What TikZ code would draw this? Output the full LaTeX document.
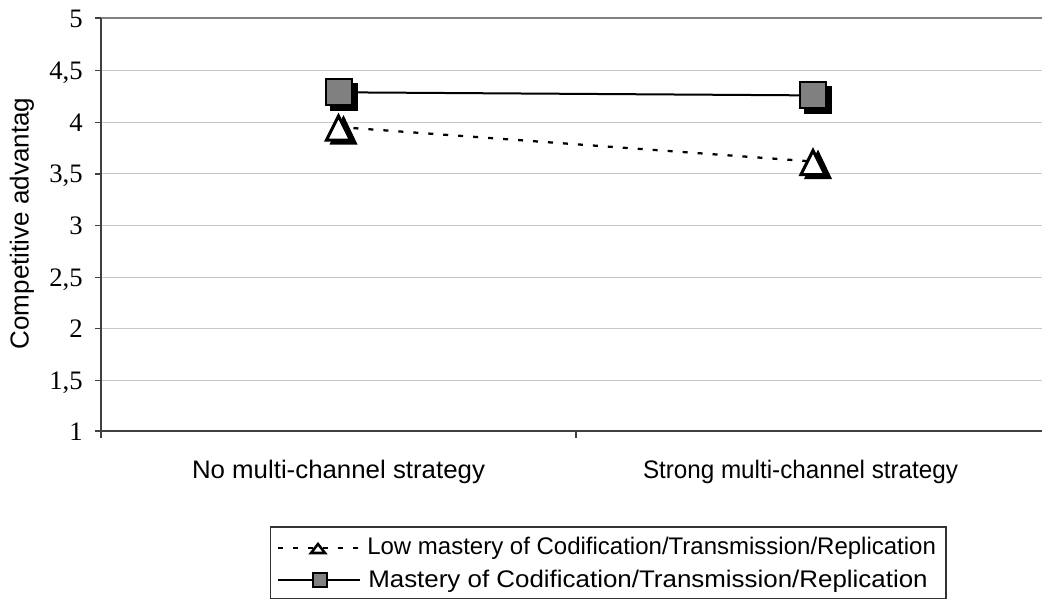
\documentclass[tikz,border=0pt]{standalone}
\usepackage{fontspec}
\usepackage{graphicx}
\setmainfont{Liberation Serif}
\newfontfamily\arialfont{Liberation Sans}

\tikzset{
  gridline/.style={draw=black!22, line width=0.75pt},
  frameline/.style={draw=black!50, line width=1.5pt},
  axisline/.style={draw=black!75, line width=1.5pt},
  tickline/.style={draw=black!75, line width=0.9pt},
  ticklabel/.style={font=\fontsize{20pt}{24pt}\selectfont, anchor=base east, inner sep=0pt},
  catlabel/.style={font=\arialfont\fontsize{19pt}{23pt}\selectfont, anchor=base, inner sep=0pt},
  legtext/.style={font=\arialfont\fontsize{18pt}{22pt}\selectfont, anchor=base west, inner sep=0pt},
  mastline/.style={draw=black, line width=1.5pt},
  lowline/.style={draw=black, line width=1.7pt, dash pattern=on 3.75pt off 7.5pt},
  legframe/.style={draw=black!80, line width=0.9pt},
  sqmark/.pic={
    \fill[black] (-9,-9) rectangle (19,19);
    \filldraw[fill=black!50, draw=black, line width=1.5pt] (-13,-13) rectangle (13,13);
  },
  trimark/.pic={
    \fill[black] (5,-12) -- (19,17.5) -- (-9,17.5) -- cycle;
    \filldraw[fill=white, draw=black, line width=2.25pt, line join=miter] (0,-11) -- (12,13) -- (-12,13) -- cycle;
  },
  legtri/.pic={
    \filldraw[fill=white, draw=black, line width=1.9pt, line join=miter] (0,-4) -- (7,5) -- (-7,5) -- cycle;
  },
  legsq/.pic={
    \filldraw[fill=black!50, draw=black, line width=1.5pt] (-7,-7) rectangle (7,7);
  }
}

\begin{document}
\begin{tikzpicture}[x=0.75pt, y=-0.75pt]
\useasboundingbox (0,0) rectangle (1042,601);

% horizontal grid lines (values 1.5 .. 4.5)
\foreach \yy in {70.6,122.2,173.9,225.5,277.1,328.8,380.4}
  \draw[gridline] (101,\yy) -- (1042,\yy);
% plot area top edge
\draw[frameline] (101,18) -- (1042,18);

% axes
\draw[axisline] (101,18) -- (101,431);
\draw[axisline] (95,431) -- (1042,431);

% value ticks and labels
\foreach \yy/\lab in {18/5, 70.6/{4,5}, 122.2/4, 173.9/{3,5}, 225.5/3, 277.1/{2,5}, 328.8/2, 380.4/{1,5}, 431/1} {
  \draw[tickline] (95,\yy) -- (101,\yy);
  \node[ticklabel] at (83,\yy+9) {\lab};
}

% category ticks
\draw[tickline] (101,431) -- (101,438);
\draw[tickline] (576,431) -- (576,438);

% axis titles
\node[rotate=90, inner sep=0pt, font=\arialfont\fontsize{19.5pt}{23pt}\selectfont] (ylab) at (22,223.5) {Competitive advantag};
\node[catlabel] (cat1) at (338.5,478) {\scalebox{1.02}[1]{No multi-channel strategy}};
\node[catlabel] (cat2) at (800.5,478) {\scalebox{0.956}[1]{Strong multi-channel strategy}};

% data points
\coordinate (m1) at (338.5,92.3);
\coordinate (m2) at (813,95.4);
\coordinate (l1) at (338.5,127);
\coordinate (l2) at (813,161.5);

% series lines
\draw[lowline] (l1) -- (l2);
\draw[mastline] (m1) -- (m2);

% markers
\pic at (l1) {trimark};
\pic at (l2) {trimark};
\pic at (m1) {sqmark};
\pic at (m2) {sqmark};

% legend
\draw[legframe] (270.5,527) rectangle (946,598.5);
\coordinate (la1) at (278,548);
\coordinate (la2) at (360,548);
\coordinate (lb1) at (278,580);
\coordinate (lb2) at (360,580);
\draw[lowline] (la1) -- (la2);
\draw[mastline] (lb1) -- (lb2);
\pic at (318,548) {legtri};
\pic at (320,580) {legsq};
\node[legtext] (leg1) at (367,554) {Low mastery of Codification/Transmission/Replication};
\node[legtext] (leg2) at (368,587) {\scalebox{1.08}[1]{Mastery of Codification/Transmission/Replication}};
\end{tikzpicture}
\end{document}
